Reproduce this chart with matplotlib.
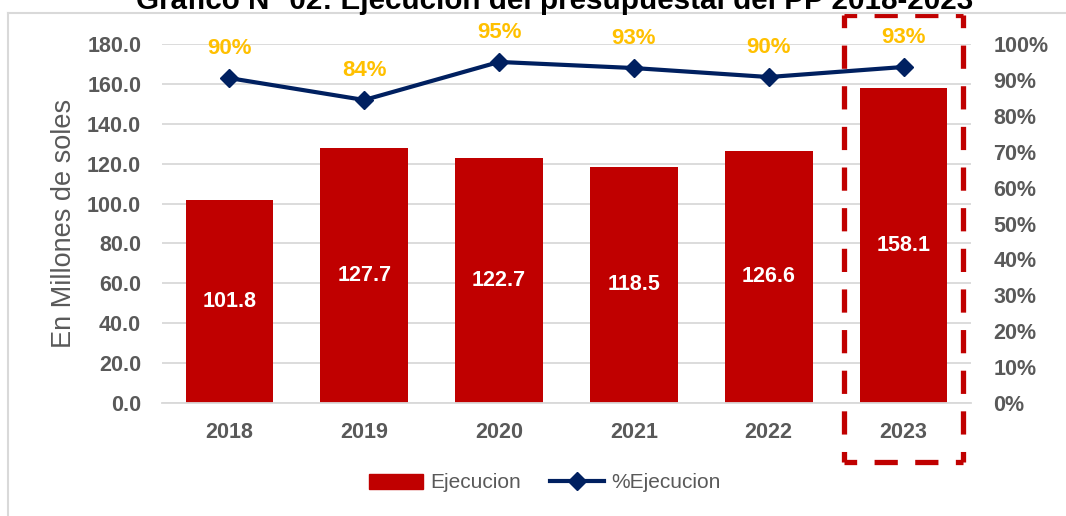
import matplotlib.pyplot as plt
from matplotlib.patches import Rectangle
from matplotlib.lines import Line2D
import numpy as np

# datos del grafico
years = ['2018', '2019', '2020', '2021', '2022', '2023']
ejecucion = [101.8, 127.7, 122.7, 118.5, 126.6, 158.1]
pct_ejecucion = [0.905, 0.844, 0.950, 0.933, 0.908, 0.936]
pct_labels = ['90%', '84%', '95%', '93%', '90%', '93%']
left_ticks = [0, 20, 40, 60, 80, 100, 120, 140, 160, 180]
right_ticks = [0, 0.1, 0.2, 0.3, 0.4, 0.5, 0.6, 0.7, 0.8, 0.9, 1.0]

plt.rcParams['font.family'] = ['Liberation Sans', 'DejaVu Sans']

red = '#C00000'
navy = '#002060'
gold = '#FFC000'
gray = '#595959'
grid = '#D9D9D9'

fig = plt.figure(figsize=(10.66, 5.16), dpi=100)
ax = fig.add_axes([162/1066, 1 - 403/516, 809/1066, 359/516])
x = np.arange(len(years))

ax.bar(x, ejecucion, width=0.65, color=red, zorder=2)
for xi, v in zip(x, ejecucion):
	ax.text(xi, v / 2, '%.1f' % v, ha='center', va='center', color='white',
		fontsize=15.5, fontweight='bold', zorder=3)

ax.set_xlim(-0.5, 5.5)
ax.set_ylim(0, 180)
ax.set_yticks(left_ticks)
ax.set_yticklabels(['%.1f' % t for t in left_ticks])
ax.set_xticks(x)
ax.set_xticklabels(years)
ax.yaxis.grid(True, color=grid, linewidth=1.3, zorder=0)
ax.set_axisbelow(True)
for s in ['top', 'left', 'right']:
	ax.spines[s].set_visible(False)
ax.spines['bottom'].set_color(grid)
ax.spines['bottom'].set_linewidth(1.3)
ax.tick_params(axis='both', length=0, labelsize=15.5, labelcolor=gray)
ax.tick_params(axis='y', pad=15)
ax.tick_params(axis='x', pad=14)
for lab in ax.get_xticklabels() + ax.get_yticklabels():
	lab.set_fontweight('bold')
ax.set_ylabel('En Millones de soles', fontsize=19.5, color=gray, labelpad=7)

# eje secundario
ax2 = ax.twinx()
ax2.set_ylim(0, 1.0)
ax2.set_yticks(right_ticks)
ax2.set_yticklabels(['%d%%' % round(t * 100) for t in right_ticks])
for s in ax2.spines.values():
	s.set_visible(False)
ax2.tick_params(axis='y', length=0, labelsize=15.5, labelcolor=gray, pad=16)
for lab in ax2.get_yticklabels():
	lab.set_fontweight('bold')
ax2.plot(x, pct_ejecucion, color=navy, linewidth=3, marker='D', markersize=9, zorder=4)
for xi, p, lab in zip(x, pct_ejecucion, pct_labels):
	ax2.annotate(lab, (xi, p), xytext=(0, 14), textcoords='offset points',
		ha='center', va='bottom', color=gold, fontsize=16, fontweight='bold')

# recuadro punteado 2023 (cada lado por separado)
x0, x1 = 4.555, 5.44
y0, y1 = -29.6, 194.5
dash = (2, (4.4, 3.3))
for xs, ys in [([x0, x1], [y1, y1]), ([x0, x1], [y0, y0]),
		([x0, x0], [y1, y0]), ([x1, x1], [y1, y0])]:
	ax.plot(xs, ys, color=red, linewidth=3.8, linestyle=dash,
		solid_capstyle='butt', dash_capstyle='butt', clip_on=False, zorder=5)

# borde del area del grafico
fig.add_artist(Line2D([8/1066, 1], [1 - 13/516, 1 - 13/516], color=grid, linewidth=1.5))
fig.add_artist(Line2D([8/1066, 8/1066], [0, 1 - 13/516], color=grid, linewidth=1.5))

fig.text(555/1066, 1 - 9/516, 'Gráfico N° 02: Ejecución del presupuestal del PP 2018-2023',
	ha='center', va='baseline', fontsize=21.3, fontweight='bold', color='black')

handles = [Rectangle((0, 0), 1, 1, color=red),
	Line2D([], [], color=navy, linewidth=3, marker='D', markersize=9)]
fig.legend(handles, ['Ejecucion', '%Ejecucion'], loc='center', bbox_to_anchor=(545/1066, 1 - 483/516),
	ncol=2, frameon=False, fontsize=15, labelcolor=gray, handlelength=2.6,
	handletextpad=0.35, columnspacing=1.4)

fig.savefig('out.png', dpi=100)
